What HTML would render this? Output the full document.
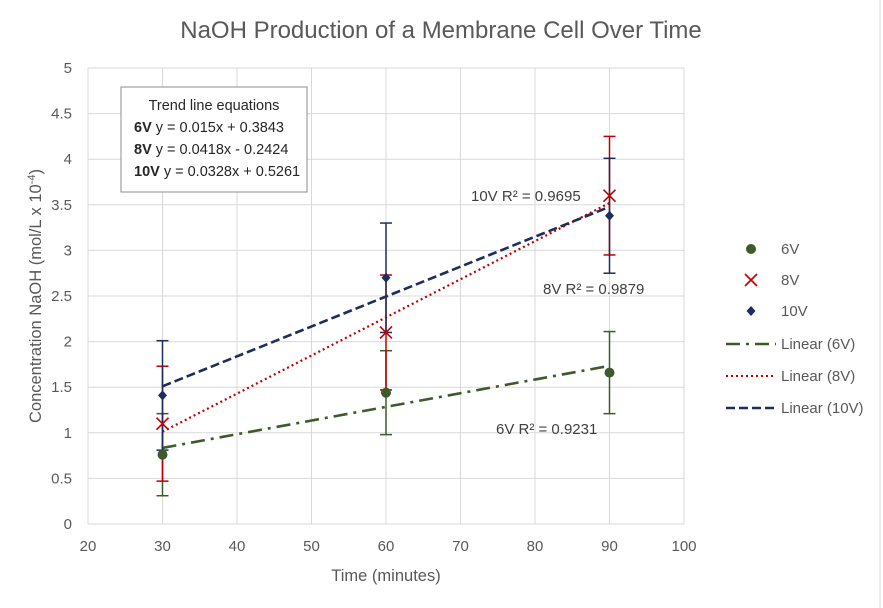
<!DOCTYPE html>
<html><head><meta charset="utf-8">
<style>
html,body{margin:0;padding:0;background:#fff;}
svg{display:block;font-family:"Liberation Sans",Calibri,sans-serif;}
</style></head>
<body>
<svg id="chart" width="883" height="608" viewBox="0 0 883 608">
  <rect x="0" y="0" width="883" height="608" fill="#fff"/>
  <line x1="880" y1="0" x2="880" y2="608" stroke="#d9d9d9"/>
  <text x="441" y="38" text-anchor="middle" font-size="24" fill="#595959">NaOH Production of a Membrane Cell Over Time</text>
  <g id="grid"></g>
  <g id="axes"></g>
  <g id="trends"></g>
  <g id="errors"></g>
  <g id="marks"></g>
  <text x="386" y="581" text-anchor="middle" font-size="16.5" fill="#595959">Time (minutes)</text>
  <text transform="translate(41,296) rotate(-90)" text-anchor="middle" font-size="16.5" fill="#595959">Concentration NaOH (mol/L x 10<tspan baseline-shift="super" font-size="11">-4</tspan>)</text>
  <g>
    <rect x="121" y="87" width="186" height="105" fill="#fff" stroke="#8c8c8c" stroke-width="1"/>
    <text x="214" y="110" text-anchor="middle" font-size="14.5" fill="#262626">Trend line equations</text>
    <text x="134" y="132" font-size="14.5" fill="#262626"><tspan font-weight="bold">6V</tspan> y = 0.015x + 0.3843</text>
    <text x="134" y="154" font-size="14.5" fill="#262626"><tspan font-weight="bold">8V</tspan> y = 0.0418x - 0.2424</text>
    <text x="134" y="176" font-size="14.5" fill="#262626"><tspan font-weight="bold">10V</tspan> y = 0.0328x + 0.5261</text>
  </g>
  <text x="471" y="201" font-size="15" fill="#404040">10V R² = 0.9695</text>
  <text x="543" y="294" font-size="15" fill="#404040">8V R² = 0.9879</text>
  <text x="496" y="434" font-size="15" fill="#404040">6V R² = 0.9231</text>
  <g id="legend"></g>
</svg>
<script>
const times = [30, 60, 90];
const v6 = [0.76, 1.44, 1.66];
const v8 = [1.1, 2.1, 3.6];
const v10 = [1.41, 2.7, 3.38];
const err6 = [0.45, 0.46, 0.45];
const err8 = [0.63, 0.63, 0.65];
const err10 = [0.6, 0.6, 0.63];
const slopes = [0.015, 0.0418, 0.0328];
const intercepts = [0.3843, -0.2424, 0.5261];
const xTicks = [20, 30, 40, 50, 60, 70, 80, 90, 100];
const yTicks = [0, 0.5, 1, 1.5, 2, 2.5, 3, 3.5, 4, 4.5, 5];
const seriesNames = ["6V", "8V", "10V"];

const NS = "http://www.w3.org/2000/svg";
const X0 = 88, X1 = 684, Y0 = 524, Y1 = 68;
const sx = v => X0 + (v - 20) / 80 * (X1 - X0);
const sy = v => Y0 - v / 5 * (Y0 - Y1);
function mk(tag, attrs, parent) {
  const e = document.createElementNS(NS, tag);
  for (const k in attrs) e.setAttribute(k, attrs[k]);
  parent.appendChild(e);
  return e;
}
const grid = document.getElementById("grid");
const axes = document.getElementById("axes");
xTicks.forEach(t => {
  const l = mk("line", {x1: sx(t), x2: sx(t), y1: Y1, y2: Y0, stroke: "#d9d9d9", "stroke-width": 1}, grid);
  
  
  const tx = mk("text", {x: sx(t), y: Y0 + 27, "text-anchor": "middle", "font-size": 15, fill: "#595959"}, axes);
  tx.textContent = t;
  
  
});
yTicks.forEach(t => {
  const l = mk("line", {x1: X0, x2: X1, y1: sy(t), y2: sy(t), stroke: "#d9d9d9", "stroke-width": 1}, grid);
  
  
  const tx = mk("text", {x: X0 - 16, y: sy(t) + 5, "text-anchor": "end", "font-size": 15, fill: "#595959"}, axes);
  tx.textContent = t;
  
  
});
const colors = ["#3e5a2a", "#c00000", "#1f2d5c"];
const dashes = ["14,6,3,6", "2,3", "9,4"];
const trends = document.getElementById("trends");
for (let i = 0; i < 3; i++) {
  const l = mk("line", {x1: sx(times[0]), y1: sy(slopes[i]*times[0]+intercepts[i]), x2: sx(times[2]), y2: sy(slopes[i]*times[2]+intercepts[i]), stroke: colors[i], "stroke-width": i==1?2.2:2.6, "stroke-dasharray": dashes[i]}, trends);
  
  
}
const errG = document.getElementById("errors");
const marks = document.getElementById("marks");
const vals = [v6, v8, v10], errs = [err6, err8, err10];
[0, 1, 2].forEach(i => {
  times.forEach((t, j) => {
    const x = sx(t), v = vals[i][j], e = errs[i][j];
    const g = mk("g", {stroke: colors[i], "stroke-width": 1.5}, errG);
    
    
    mk("line", {x1: x, x2: x, y1: sy(v - e), y2: sy(v + e)}, g);
    mk("line", {x1: x - 6, x2: x + 6, y1: sy(v - e), y2: sy(v - e)}, g);
    mk("line", {x1: x - 6, x2: x + 6, y1: sy(v + e), y2: sy(v + e)}, g);
  });
});
function drawMarker(i, x, y, parent) {
  let m;
  if (i === 0) m = mk("circle", {cx: x, cy: y, r: 5, fill: "#3e5a2a"}, parent);
  else if (i === 1) m = mk("path", {d: `M${x-6},${y-6}L${x+6},${y+6}M${x-6},${y+6}L${x+6},${y-6}`, stroke: "#c00000", "stroke-width": 1.6, fill: "none"}, parent);
  else m = mk("path", {d: `M${x},${y-5}L${x+4.5},${y}L${x},${y+5}L${x-4.5},${y}Z`, fill: "#1f2d5c"}, parent);
  return m;
}
[0, 1, 2].forEach(i => {
  times.forEach((t, j) => {
    const m = drawMarker(i, sx(t), sy(vals[i][j]), marks);
    
    
  });
});
const lg = document.getElementById("legend");
const rows = [249, 280, 311, 344, 376, 408];
const labels = ["6V", "8V", "10V", "Linear (6V)", "Linear (8V)", "Linear (10V)"];
rows.forEach((y, k) => {
  const g = mk("g", {}, lg);
  
  
  if (k < 3) drawMarker(k, 751, y, g);
  else {
    const i = k - 3;
    mk("line", {x1: 726, x2: 776, y1: y, y2: y, stroke: colors[i], "stroke-width": i==1?2:2.6, "stroke-dasharray": dashes[i]}, g);
  }
  const t = mk("text", {x: 781, y: y + 5, "font-size": 15, fill: "#595959"}, g);
  t.textContent = labels[k];
});
</script>
</body></html>
